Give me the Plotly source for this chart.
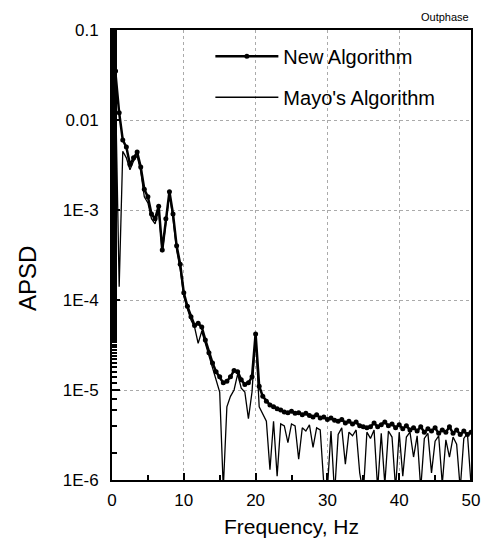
import plotly.graph_objects as go

freq = [i * 0.5 for i in range(101)]

new_algorithm = [
    0.085, 0.035, 0.012, 0.0060, 0.0050, 0.0032, 0.0038, 0.0044, 0.0030, 0.0017,
    0.0014, 0.0009, 0.00080, 0.0011, 0.00036, 0.0008, 0.0016, 0.0009, 0.00040, 0.00025,
    0.00012, 0.000085, 0.000065, 0.000052, 0.000055, 0.000050, 0.000036, 0.000026, 0.000020, 0.000016,
    0.000014, 0.000012, 0.0000125, 0.000014, 0.0000165, 0.000016, 0.000013, 0.0000115, 0.000012, 0.000014,
    0.000042, 0.000011, 0.0000085, 0.0000075, 0.0000068, 0.0000065, 0.0000062, 0.0000060, 0.0000057, 0.0000056,
    0.0000058, 0.0000055, 0.0000056, 0.0000053, 0.0000055, 0.0000052, 0.0000050, 0.0000053, 0.0000049, 0.0000050,
    0.0000047, 0.0000049, 0.0000046, 0.0000045, 0.0000047, 0.0000043, 0.0000045, 0.0000042, 0.0000044, 0.0000040,
    0.0000039, 0.0000038, 0.0000039, 0.0000043, 0.0000039, 0.0000041, 0.0000044, 0.0000040, 0.0000042, 0.0000038,
    0.0000041, 0.0000037, 0.0000040, 0.0000036, 0.0000038, 0.0000035, 0.0000039, 0.0000034, 0.0000037, 0.0000035,
    0.0000038, 0.0000033, 0.0000036, 0.0000034, 0.0000039, 0.0000033, 0.0000036, 0.0000032, 0.0000035, 0.0000032,
    0.0000034,
]

mayo_algorithm = [
    0.075, 0.020, 0.00014, 0.0045, 0.0038, 0.0028, 0.0035, 0.0040, 0.0027, 0.0014,
    0.0012, 0.0008, 0.0007, 0.0010, 0.00034, 0.0007, 0.0015, 0.0008, 0.00036, 0.00022,
    0.00011, 0.00008, 0.00006, 0.00005, 0.000033, 0.000045, 0.000033, 0.000024, 0.000018, 0.000013,
    0.0000095, 0.0000008, 0.0000065, 0.0000085, 0.000010, 0.000015, 0.0000105, 0.0000095, 0.0000048, 0.0000095,
    0.000040, 0.0000065, 0.0000055, 0.0000045, 0.0000013, 0.0000045, 0.0000011, 0.0000042, 0.0000040, 0.0000026,
    0.0000042, 0.0000040, 0.0000017, 0.0000038, 0.0000035, 0.0000041, 0.0000023, 0.0000038, 0.0000036, 0.0000009,
    0.0000008, 0.0000035, 0.0000007, 0.0000032, 0.0000038, 0.0000015, 0.0000034, 0.0000031, 0.0000036, 0.0000012,
    0.0000007, 0.0000034, 0.0000029, 0.0000036, 0.0000008, 0.0000033, 0.0000009, 0.0000035, 0.0000030, 0.0000008,
    0.0000034, 0.0000011, 0.0000030, 0.0000034, 0.0000018, 0.0000031, 0.0000008, 0.0000029, 0.0000033, 0.0000012,
    0.0000027, 0.0000031, 0.0000009, 0.0000028, 0.0000018, 0.0000030, 0.0000025, 0.0000008, 0.0000029, 0.0000033,
    0.0000009,
]

y_tick_vals = [1e-6, 1e-5, 1e-4, 1e-3, 1e-2, 1e-1]
y_tick_text = ["1E-6", "1E-5", "1E-4", "1E-3", "0.01", "0.1"]
x_tick_vals = [0, 10, 20, 30, 40, 50]

FONT = "Liberation Sans, Arial, sans-serif"

fig = go.Figure()
fig.add_trace(go.Scatter(
    x=freq, y=new_algorithm, mode="lines+markers", name="New Algorithm",
    line=dict(color="black", width=2.5), marker=dict(color="black", size=5),
    legendgroup="a",
))
fig.add_trace(go.Scatter(
    x=freq, y=mayo_algorithm, mode="lines", name="Mayo's Algorithm",
    line=dict(color="black", width=1.3),
    legendgroup="b",
))

fig.update_layout(
    width=490, height=551,
    margin=dict(l=104, r=27, t=22, b=79),
    paper_bgcolor="white", plot_bgcolor="white",
    font=dict(family=FONT, color="black", size=17),
    showlegend=True,
    legend=dict(x=0.274, y=0.985, xanchor="left", yanchor="top",
                bgcolor="rgba(0,0,0,0)", font=dict(size=20, family=FONT),
                itemwidth=63, tracegroupgap=12),
    xaxis=dict(
        range=[0, 50], tickvals=x_tick_vals, ticks="inside", ticklen=7, tickwidth=2,
        tickcolor="black", showline=True, linecolor="black", linewidth=2, mirror=True,
        showgrid=True, gridcolor="#aaa", griddash="dot", gridwidth=1, zeroline=False,
        minor=dict(dtick=5, ticks="inside", ticklen=5, tickcolor="black", showgrid=False),
        tickfont=dict(size=17), ticklabelstandoff=4,
        title=dict(text="Frequency, Hz", font=dict(size=21), standoff=10),
    ),
    yaxis=dict(
        type="log", range=[-6, -1], tickvals=y_tick_vals, ticktext=y_tick_text,
        ticks="inside", ticklen=8, tickwidth=2, tickcolor="black",
        showline=True, linecolor="black", linewidth=2, mirror=True,
        showgrid=True, gridcolor="#aaa", griddash="dot", gridwidth=1, zeroline=False,
        minor=dict(ticks="inside", ticklen=5, tickcolor="black", showgrid=False),
        tickfont=dict(size=17), ticklabelstandoff=8,
    ),
    annotations=[
        dict(
            text="Outphase", x=1.0, y=1.0, xref="paper", yref="paper",
            xanchor="right", yanchor="bottom", yshift=5, showarrow=False,
            font=dict(size=11, family=FONT),
        ),
        dict(
            text="APSD", x=-0.234, y=0.449, xref="paper", yref="paper",
            xanchor="center", yanchor="middle", textangle=-90, showarrow=False,
            font=dict(size=24, family=FONT),
        ),
    ],
)

fig.write_html("out.html")
